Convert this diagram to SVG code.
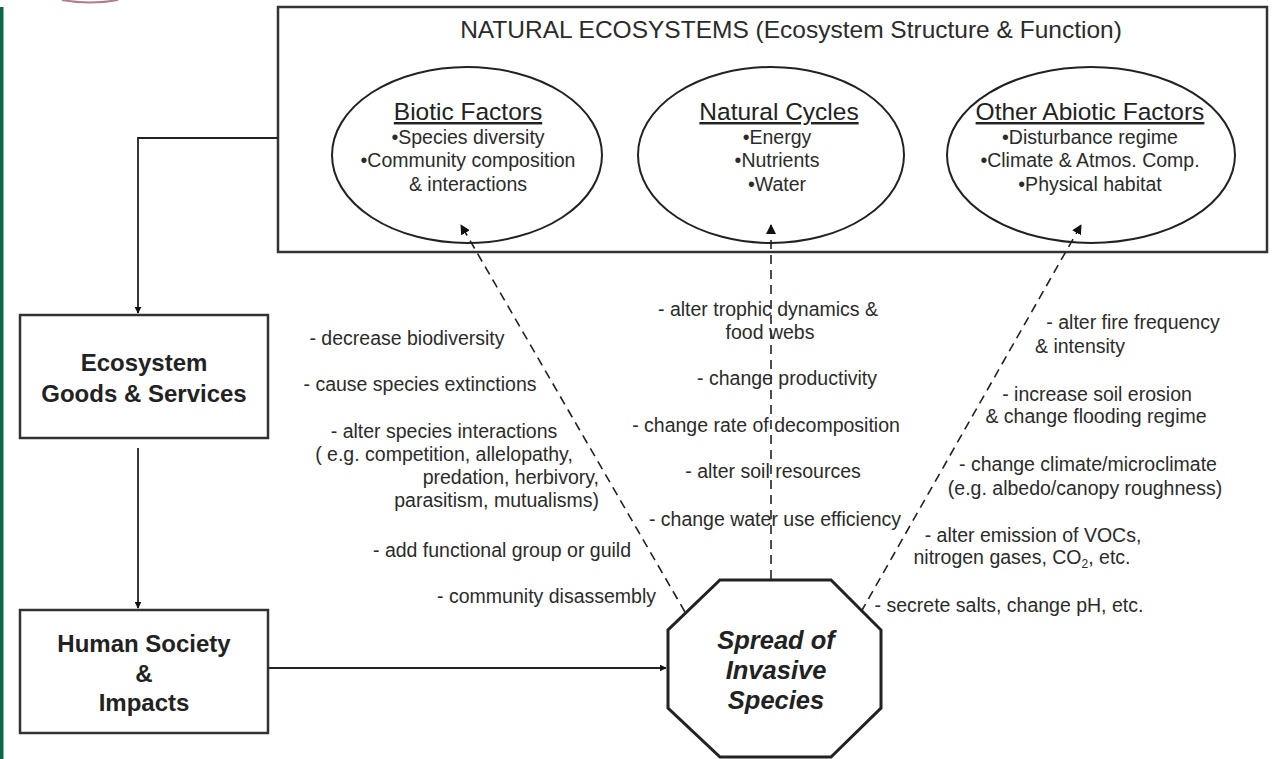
<svg xmlns="http://www.w3.org/2000/svg" width="1276" height="759" viewBox="0 0 1276 759">
<style>
.t{font-family:"Liberation Sans",Arial,sans-serif;fill:#2b2b2b;font-size:19.5px;text-anchor:middle}
.r{text-anchor:end}
.h{font-family:"Liberation Sans",Arial,sans-serif;fill:#222;font-size:24.5px;text-anchor:middle;text-decoration:underline}
.b{font-family:"Liberation Sans",Arial,sans-serif;fill:#222;font-size:24px;font-weight:bold;text-anchor:middle}
.bi{font-size:25.5px;font-style:italic}
.box{fill:#fff;stroke:#333;stroke-width:2.5}
.ln{fill:none;stroke:#222;stroke-width:1.8}
.dl{fill:none;stroke:#222;stroke-width:1.6;stroke-dasharray:9 6}
</style>
<defs>
<marker id="ah" viewBox="0 0 10 10" refX="9" refY="5" markerWidth="7" markerHeight="7" markerUnits="userSpaceOnUse" orient="auto">
<path d="M0,0 L10,5 L0,10 z" fill="#111"/>
</marker>
<marker id="ahd" viewBox="0 0 10 10" refX="9" refY="5" markerWidth="10" markerHeight="10" markerUnits="userSpaceOnUse" orient="auto">
<path d="M0,0 L10,5 L0,10 z" fill="#111"/>
</marker>
</defs>
<rect width="1276" height="759" fill="#fff"/>
<rect x="0" y="7" width="3.5" height="752" fill="#0b6a45"/>
<path d="M62,0 Q90,5 118,0" fill="none" stroke="#7a2a3a" stroke-width="2" opacity="0.6"/>

<g id="natural-ecosystems">
<rect class="box" x="278" y="7" width="989" height="245"/>
<text class="t" x="791" y="38" style="font-size:24.5px">NATURAL ECOSYSTEMS (Ecosystem Structure &amp; Function)</text>
</g>
<g id="biotic-factors">
<ellipse cx="467" cy="155" rx="135" ry="88" fill="#fff" stroke="#222" stroke-width="2"/>
<text class="h" x="468" y="120">Biotic Factors</text>
<text class="t" x="468" y="144">•Species diversity</text>
<text class="t" x="468" y="167">•Community composition</text>
<text class="t" x="468" y="191">&amp; interactions</text>
</g>
<g id="natural-cycles">
<ellipse cx="771" cy="155" rx="133" ry="88" fill="#fff" stroke="#222" stroke-width="2"/>
<text class="h" x="779" y="120">Natural Cycles</text>
<text class="t" x="777" y="144">•Energy</text>
<text class="t" x="777" y="167">•Nutrients</text>
<text class="t" x="777" y="191">•Water</text>
</g>
<g id="other-abiotic-factors">
<ellipse cx="1091" cy="155" rx="144" ry="88" fill="#fff" stroke="#222" stroke-width="2"/>
<text class="h" x="1090" y="120">Other Abiotic Factors</text>
<text class="t" x="1090" y="144">•Disturbance regime</text>
<text class="t" x="1090" y="167">•Climate &amp; Atmos. Comp.</text>
<text class="t" x="1090" y="191">•Physical habitat</text>
</g>
<g id="ecosystem-goods-services">
<rect class="box" x="20" y="315" width="248" height="123"/>
<text class="b" x="144" y="371">Ecosystem</text>
<text class="b" x="144" y="402">Goods &amp; Services</text>
</g>
<g id="human-society">
<rect class="box" x="20" y="610" width="248" height="123"/>
<text class="b" x="144" y="652">Human Society</text>
<text class="b" x="144" y="682">&amp;</text>
<text class="b" x="144" y="711">Impacts</text>
</g>
<g id="spread-invasive-species">
<polygon points="720,580 831,580 881,630 881,708 831,757 720,757 668,708 668,630" fill="#fff" stroke="#222" stroke-width="3"/>
<text class="b bi" x="776" y="649">Spread of</text>
<text class="b bi" x="776" y="679">Invasive</text>
<text class="b bi" x="776" y="709">Species</text>
</g>

<g id="connectors">
<polyline class="ln" points="278,138 138,138 138,313" marker-end="url(#ah)"/>
<line class="ln" x1="138" y1="448" x2="138" y2="608" marker-end="url(#ah)"/>
<line class="ln" x1="268" y1="668" x2="666" y2="668" marker-end="url(#ah)"/>
<line class="dl" x1="685" y1="612" x2="461" y2="225" marker-end="url(#ahd)"/>
<line class="dl" x1="771" y1="579" x2="771" y2="225" marker-end="url(#ahd)"/>
<line class="dl" x1="861" y1="612" x2="1081" y2="225" marker-end="url(#ahd)"/>
</g>

<g id="labels-biotic">
<text class="t" x="407" y="345">- decrease biodiversity</text>
<text class="t" x="420" y="391">- cause species extinctions</text>
<text class="t" x="444" y="438">- alter species interactions</text>
<text class="t" x="444" y="461">( e.g. competition, allelopathy,</text>
<text class="t r" x="599" y="484">predation, herbivory,</text>
<text class="t r" x="599" y="507">parasitism, mutualisms)</text>
<text class="t r" x="631" y="557">- add functional group or guild</text>
<text class="t r" x="656" y="603">- community disassembly</text>
</g>
<g id="labels-cycles">
<text class="t" x="768" y="316">- alter trophic dynamics &amp;</text>
<text class="t" x="770" y="339">food webs</text>
<text class="t" x="787" y="385">- change productivity</text>
<text class="t" x="766" y="432">- change rate of decomposition</text>
<text class="t" x="773" y="478">- alter soil resources</text>
<text class="t" x="775" y="526">- change water use efficiency</text>
</g>
<g id="labels-abiotic">
<text class="t" x="1133" y="329">- alter fire frequency</text>
<text class="t" x="1080" y="353">&amp; intensity</text>
<text class="t" x="1097" y="401">- increase soil erosion</text>
<text class="t" x="1096" y="423">&amp; change flooding regime</text>
<text class="t" x="1088" y="471">- change climate/microclimate</text>
<text class="t" x="1085" y="495">(e.g. albedo/canopy roughness)</text>
<text class="t" x="1033" y="542">- alter emission of VOCs,</text>
<text class="t" x="1022" y="564">nitrogen gases, CO<tspan dy="4" style="font-size:12px">2</tspan><tspan dy="-4">, etc.</tspan></text>
<text class="t" x="1009" y="612">- secrete salts, change pH, etc.</text>
</g>
</svg>
